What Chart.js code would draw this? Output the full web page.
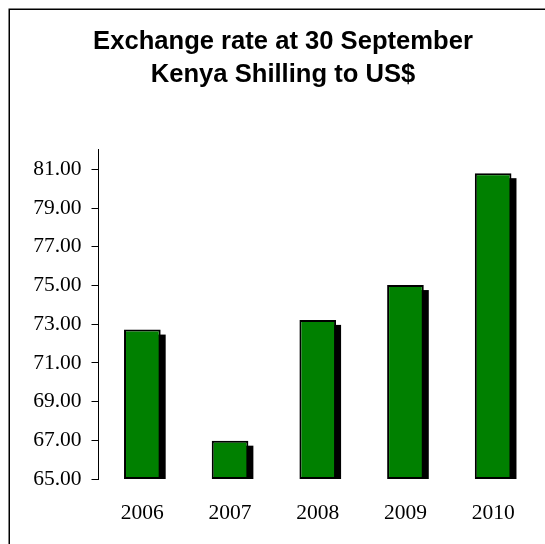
<!DOCTYPE html>
<html>
<head>
<meta charset="utf-8">
<script src="https://cdn.jsdelivr.net/npm/chart.js@4/dist/chart.umd.min.js"></script>
<style>
  html, body { margin: 0; padding: 0; background: #ffffff; }
  #wrap { width: 545px; height: 544px; position: relative; }
</style>
</head>
<body>
<div id="wrap"><canvas id="c"></canvas></div>
<script>
const titleLines = ['Exchange rate at 30 September', 'Kenya Shilling to US$'];
const categories = ['2006', '2007', '2008', '2009', '2010'];
const rates = [72.72, 66.98, 73.22, 75.02, 80.80];
const yTickValues = [65, 67, 69, 71, 73, 75, 77, 79, 81];
const yMin = 65;
const yMax = 82;

const framePlugin = {
  id: 'frame',
  beforeDraw(chart) {
    const ctx = chart.ctx;
    ctx.save();
    ctx.fillStyle = '#ffffff';
    ctx.fillRect(0, 0, chart.width, chart.height);
    ctx.strokeStyle = '#000000';
    ctx.lineWidth = 1.5;
    ctx.strokeRect(9.25, 9.25, chart.width + 50, chart.height + 50);
    ctx.restore();
  }
};

const shadowPlugin = {
  id: 'barShadow',
  beforeDatasetsDraw(chart) {
    const ctx = chart.ctx;
    const meta = chart.getDatasetMeta(0);
    ctx.save();
    ctx.fillStyle = '#000000';
    meta.data.forEach(bar => {
      const p = bar.getProps(['x', 'y', 'base', 'width'], true);
      const off = 5;
      ctx.fillRect(p.x - p.width / 2 + off, p.y + off, p.width, p.base - p.y - off);
    });
    ctx.restore();
  }
};

new Chart(document.getElementById('c'), {
  type: 'bar',
  data: {
    labels: categories,
    datasets: [{
      data: rates.map(v => [yMin, v]),
      backgroundColor: '#008000',
      borderColor: '#000000',
      borderWidth: 2,
      borderSkipped: false,
      categoryPercentage: 1.0,
      barPercentage: 0.418
    }]
  },
  options: {
    responsive: true,
    maintainAspectRatio: false,
    animation: false,
    devicePixelRatio: 1,
    layout: { padding: { left: 29, right: 8, top: 0, bottom: 0 } },
    plugins: {
      legend: { display: false },
      tooltip: { enabled: false },
      title: {
        display: true,
        text: titleLines,
        color: '#000000',
        font: { family: "'Liberation Sans', Arial, sans-serif", size: 25.6, weight: 'bold', lineHeight: 1.30 },
        padding: { top: 25.2, bottom: 58.2 }
      }
    },
    scales: {
      x: {
        grid: { display: false, drawTicks: false },
        border: { display: false },
        ticks: {
          color: '#000000',
          padding: 21,
          font: { family: "'Liberation Serif', 'Times New Roman', serif", size: 21.5 }
        },
        afterFit(scale) { scale.height = 65; }
      },
      y: {
        min: yMin,
        max: yMax,
        grid: { drawOnChartArea: false, drawTicks: true, tickLength: 7, color: '#000000', lineWidth: 1 },
        border: { display: true, color: '#000000', width: 1 },
        ticks: {
          color: '#000000',
          padding: 10,
          font: { family: "'Liberation Serif', 'Times New Roman', serif", size: 21.5 },
          callback: (v) => Number(v).toFixed(2)
        },
        afterBuildTicks(scale) {
          scale.ticks = yTickValues.map(v => ({ value: v }));
        },
        afterFit(scale) { scale.width = 69.5; }
      }
    }
  },
  plugins: [framePlugin, shadowPlugin]
});
</script>
</body>
</html>
